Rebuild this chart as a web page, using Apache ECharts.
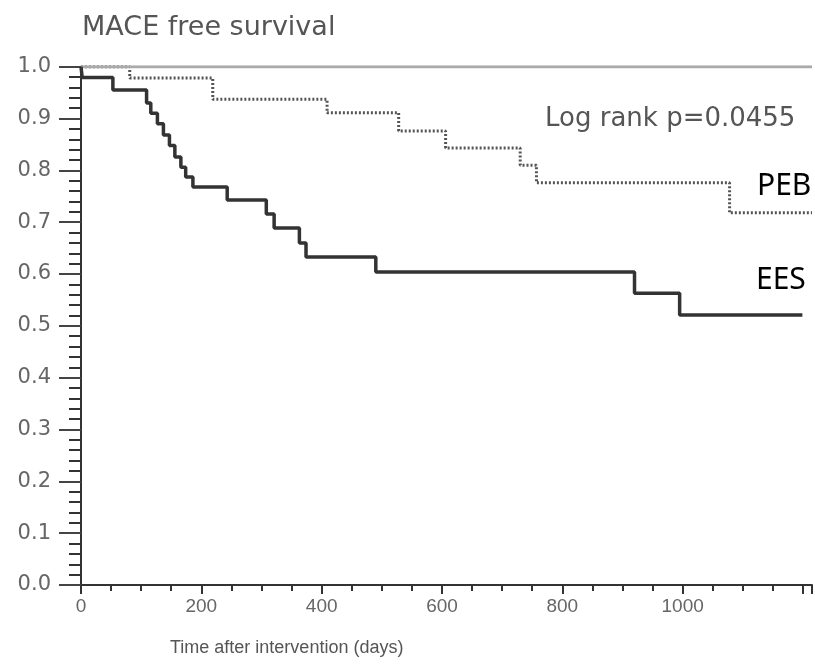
<!DOCTYPE html>
<html>
<head>
<meta charset="utf-8">
<script src="https://cdn.jsdelivr.net/npm/echarts@6/dist/echarts.min.js"></script>
<style>html,body{margin:0;padding:0;background:#fff;}#c{width:815px;height:668px;}</style>
</head>
<body>
<div id="c"></div>
<script>
// Data
const eesDays = [0, 2, 53, 109, 116, 127, 137, 147, 156, 166, 174, 186, 243, 308, 321, 363, 374, 490, 920, 995, 1199];
const eesSurv = [1.0, 0.979, 0.955, 0.93, 0.91, 0.89, 0.868, 0.848, 0.826, 0.806, 0.787, 0.768, 0.743, 0.716, 0.689, 0.66, 0.633, 0.604, 0.563, 0.521, 0.521];
const pebDays = [0, 81, 219, 409, 528, 606, 730, 757, 1078, 1215];
const pebSurv = [1.0, 0.978, 0.937, 0.911, 0.876, 0.843, 0.81, 0.776, 0.718, 0.718];
const refDays = [0, 1215];
const refSurv = [1.0, 1.0];
const xTicks = [0, 200, 400, 600, 800, 1000];
const yTicks = [0.0, 0.1, 0.2, 0.3, 0.4, 0.5, 0.6, 0.7, 0.8, 0.9, 1.0];

const zip = (a, b) => a.map((v, i) => [v, b[i]]);
const fontL = '"Liberation Sans", Arial, sans-serif';
const fontD = '"DejaVu Sans", sans-serif';
const chart = echarts.init(document.getElementById('c'), null, {renderer: 'canvas'});
chart.setOption({
  backgroundColor: '#fff',
  animation: false,
  grid: {left: 81, right: 0, top: 66.7, bottom: 83, containLabel: false},
  xAxis: {
    type: 'value', min: 0, max: 1215, interval: 200,
    axisLine: {lineStyle: {color: '#333', width: 2}},
    axisTick: {length: 9, lineStyle: {color: '#333', width: 2}},
    minorTick: {show: true, splitNumber: 4, length: 6, lineStyle: {color: '#333', width: 2}},
    splitLine: {show: false},
    axisLabel: {
      margin: 12, color: '#666', fontSize: 19, fontFamily: fontL,
      formatter: v => xTicks.includes(v) ? String(v) : ''
    }
  },
  yAxis: {
    type: 'value', min: 0, max: 1, interval: 0.1,
    axisLine: {lineStyle: {color: '#333', width: 2}},
    axisTick: {length: 22, lineStyle: {color: '#444', width: 2}},
    minorTick: {show: true, splitNumber: 5, length: 12, lineStyle: {color: '#333', width: 2}},
    splitLine: {show: false},
    axisLabel: {
      margin: 30, color: '#666', fontSize: 21, fontFamily: fontD,
      formatter: v => yTicks.some(t => Math.abs(t - v) < 1e-6) ? v.toFixed(1) : ''
    }
  },
  series: [
    {
      name: 'PEB', type: 'line', step: 'end', symbol: 'none', z: 2,
      data: zip(pebDays, pebSurv),
      lineStyle: {color: '#555', width: 3, type: [2, 2]}
    },
    {
      name: 'ref', type: 'line', symbol: 'none', z: 3,
      data: zip(refDays, refSurv),
      lineStyle: {color: '#aaa', width: 3}
    },
    {
      name: 'EES', type: 'line', step: 'end', symbol: 'none', z: 4,
      data: zip(eesDays, eesSurv),
      lineStyle: {color: '#333', width: 3.5}
    }
  ],
  graphic: [
    {type: 'text', left: 82, top: 14, style: {text: 'MACE free survival', font: '27px ' + fontD, fill: '#555'}},
    {type: 'text', left: 545, top: 106, style: {text: 'Log rank p=0.0455', font: '26px ' + fontD, fill: '#555'}},
    {type: 'text', left: 757, top: 171, style: {text: 'PEB', font: '30px "Noto Sans", sans-serif', fill: '#000'}},
    {type: 'text', left: 756, top: 265, style: {text: 'EES', font: '30px "Noto Sans", sans-serif', fill: '#000'}},
    {type: 'text', left: 170, top: 639, style: {text: 'Time after intervention (days)', font: '18px ' + fontL, fill: '#555'}}
  ]
});
</script>
</body>
</html>
